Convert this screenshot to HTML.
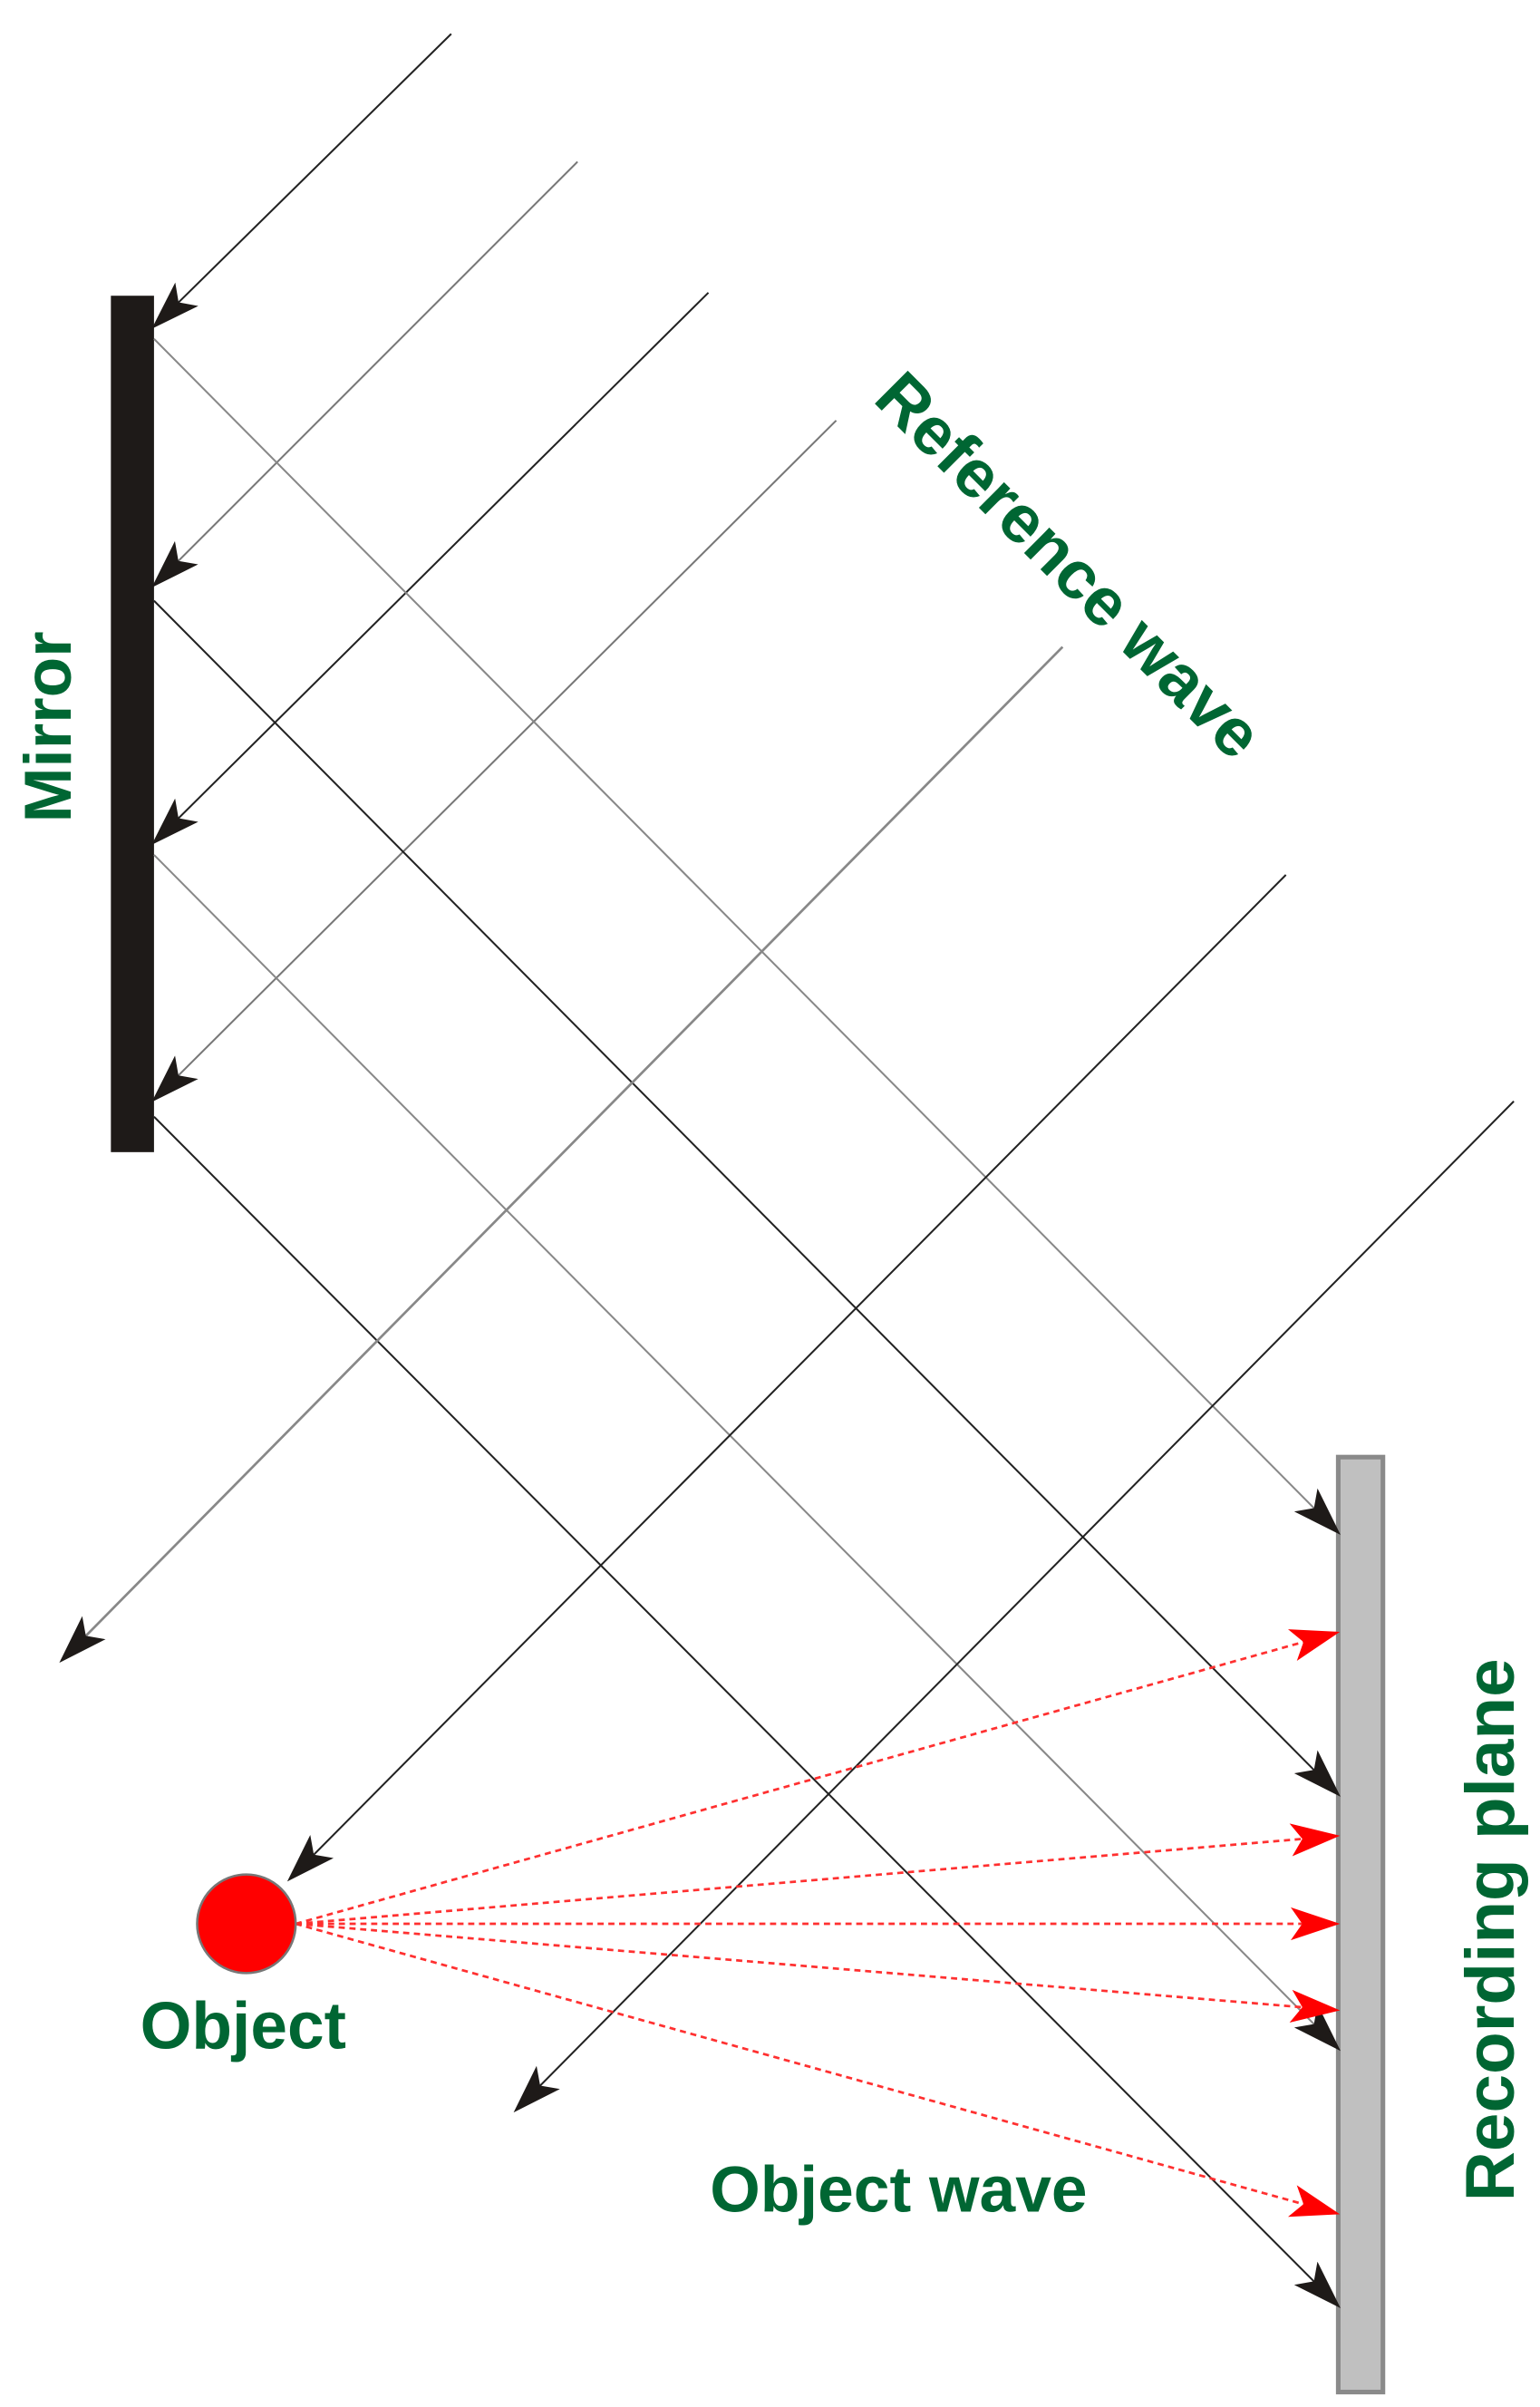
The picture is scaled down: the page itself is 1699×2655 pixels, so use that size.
<!DOCTYPE html>
<html><head><meta charset="utf-8"><style>
html,body{margin:0;padding:0;background:#fff;}
svg{display:block;}
text{font-family:"Liberation Sans",Arial,sans-serif;font-weight:bold;fill:#006633;}
</style></head><body>
<svg width="1699" height="2655" viewBox="0 0 1000 1562.7" xmlns="http://www.w3.org/2000/svg">
<defs>
<marker id="ab" viewBox="0 0 30 20" refX="28" refY="10" markerWidth="32" markerHeight="22" markerUnits="userSpaceOnUse" orient="auto">
<path d="M0,0 L30,10 L0,20 L7,10 Z" fill="#1e1a18"/></marker>
<marker id="ar" viewBox="0 0 30 20" refX="28" refY="10" markerWidth="32" markerHeight="22" markerUnits="userSpaceOnUse" orient="auto">
<path d="M0,0 L30,10 L0,20 L7,10 Z" fill="#ff0000"/></marker>
</defs>
<rect x="72" y="192" width="28" height="556" fill="#1e1a18"/>
<rect x="869" y="946" width="29" height="607" fill="#c0c0c0" stroke="#8a8a8a" stroke-width="3"/>
<g stroke-width="1.2" fill="none">
<line x1="293" y1="22" x2="100" y2="212" stroke="#222" marker-end="url(#ab)"/>
<line x1="375" y1="105" x2="100" y2="380" stroke="#777" marker-end="url(#ab)"/>
<line x1="460" y1="190" x2="100" y2="547" stroke="#222" marker-end="url(#ab)"/>
<line x1="543" y1="273" x2="100" y2="714" stroke="#777" marker-end="url(#ab)"/>
<line x1="100" y1="220" x2="869" y2="995" stroke="#888" marker-end="url(#ab)"/>
<line x1="100" y1="390" x2="869" y2="1165" stroke="#222" marker-end="url(#ab)"/>
<line x1="100" y1="555" x2="869" y2="1330" stroke="#888" marker-end="url(#ab)"/>
<line x1="100" y1="725" x2="869" y2="1497" stroke="#222" marker-end="url(#ab)"/>
<line x1="690" y1="420" x2="40" y2="1078" stroke="#888" stroke-width="1.6" marker-end="url(#ab)"/>
<line x1="835" y1="568" x2="188" y2="1220" stroke="#222" marker-end="url(#ab)"/>
<line x1="983" y1="715" x2="335" y2="1370" stroke="#222" marker-end="url(#ab)"/>
</g>
<g stroke="#ff3030" stroke-width="1.6" stroke-dasharray="4,3" fill="none">
<line x1="192" y1="1249" x2="868" y2="1060" marker-end="url(#ar)"/>
<line x1="192" y1="1249" x2="868" y2="1192" marker-end="url(#ar)"/>
<line x1="192" y1="1249" x2="868" y2="1249" marker-end="url(#ar)"/>
<line x1="192" y1="1249" x2="868" y2="1305" marker-end="url(#ar)"/>
<line x1="192" y1="1249" x2="868" y2="1437" marker-end="url(#ar)"/>
</g>
<circle cx="160" cy="1249" r="32" fill="#ff0000" stroke="#777" stroke-width="1.5"/>
<text x="46" y="472" font-size="43" text-anchor="middle" transform="rotate(-90 46 472)">Mirror</text>
<text x="566" y="260" font-size="44" transform="rotate(45 566 260)">Reference wave</text>
<text x="983" y="1253" font-size="45" text-anchor="middle" transform="rotate(-90 983 1253)">Recording plane</text>
<text x="91" y="1330" font-size="43">Object</text>
<text x="461" y="1436" font-size="42">Object wave</text>
</svg>
</body></html>
